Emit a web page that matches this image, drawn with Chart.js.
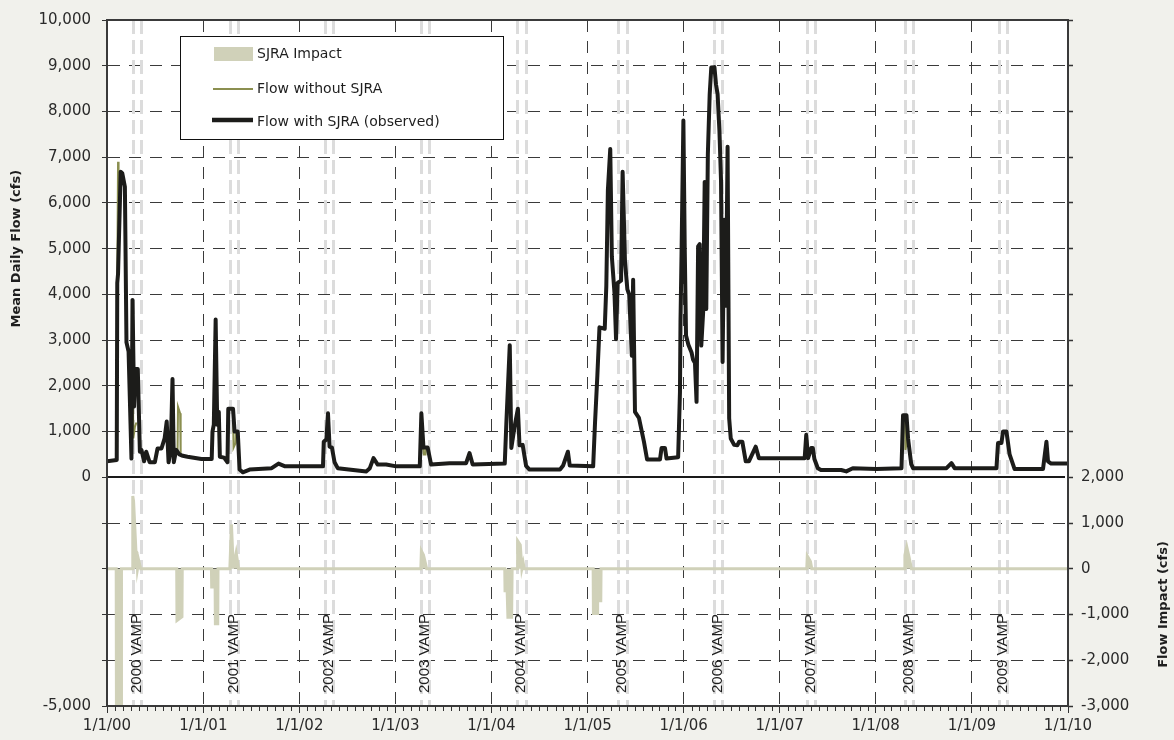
<!DOCTYPE html>
<html>
<head>
<meta charset="utf-8">
<script src="https://cdn.jsdelivr.net/npm/chart.js@4.4.1/dist/chart.umd.min.js"></script>
<style>
  html, body { margin: 0; padding: 0; background: #f1f1ec; }
  #wrap { width: 1174px; height: 740px; position: relative; }
</style>
</head>
<body>
<div id="wrap"><canvas id="c"></canvas></div>
<script>
// ---------------- DATA ----------------
const yearTickDates = ['2000-01-01','2001-01-01','2002-01-01','2003-01-01','2004-01-01','2005-01-01','2006-01-01','2007-01-01','2008-01-01','2009-01-01','2010-01-01'];
const yearTickLabels = ['1/1/00','1/1/01','1/1/02','1/1/03','1/1/04','1/1/05','1/1/06','1/1/07','1/1/08','1/1/09','1/1/10'];

// Flow with SJRA (observed), cfs
const withDates = [
 '2000-01-01','2000-02-07','2000-02-09','2000-02-12','2000-02-22','2000-02-28','2000-03-09','2000-03-15','2000-03-23','2000-04-03',
 '2000-04-07','2000-04-13','2000-04-18','2000-04-27','2000-05-05','2000-05-11','2000-05-21','2000-05-29','2000-06-11','2000-07-01',
 '2000-07-11','2000-07-26','2000-08-07','2000-08-15','2000-08-22','2000-08-30','2000-09-06','2000-09-11','2000-09-20','2000-10-02',
 '2000-10-15','2000-11-02','2000-12-25','2001-02-02','2001-02-05','2001-02-10','2001-02-17','2001-02-23','2001-03-01','2001-03-05',
 '2001-03-21','2001-04-03','2001-04-06','2001-04-24','2001-04-30','2001-05-12','2001-05-19','2001-05-31','2001-06-26','2001-09-18',
 '2001-10-14','2001-11-08','2002-04-01','2002-04-04','2002-04-14','2002-04-20','2002-04-26','2002-05-05','2002-05-15','2002-05-27',
 '2002-09-13','2002-09-26','2002-10-10','2002-10-26','2002-11-27','2003-01-05','2003-04-04','2003-04-10','2003-04-18','2003-05-04',
 '2003-05-17','2003-07-26','2003-09-27','2003-10-10','2003-10-22','2004-02-21','2004-02-27','2004-03-11','2004-03-17','2004-03-29',
 '2004-04-11','2004-04-17','2004-04-29','2004-05-12','2004-05-25','2004-09-18','2004-09-30','2004-10-18','2004-10-25','2005-01-22',
 '2005-01-29','2005-02-07','2005-02-15','2005-03-07','2005-03-13','2005-03-19','2005-03-28','2005-04-03','2005-04-13','2005-04-19',
 '2005-04-25','2005-05-08','2005-05-14','2005-05-23','2005-06-01','2005-06-08','2005-06-18','2005-06-23','2005-06-30','2005-07-15',
 '2005-08-03','2005-08-15','2005-10-03','2005-10-09','2005-10-22','2005-10-28','2005-12-11','2005-12-18','2005-12-20','2005-12-24',
 '2005-12-31','2006-01-05','2006-01-10','2006-01-19','2006-01-31','2006-02-06','2006-02-13','2006-02-19','2006-02-25','2006-03-03',
 '2006-03-09','2006-03-16','2006-03-22','2006-03-28','2006-04-03','2006-04-10','2006-04-16','2006-04-28','2006-05-04','2006-05-10',
 '2006-05-17','2006-05-23','2006-05-29','2006-06-04','2006-06-11','2006-06-17','2006-06-23','2006-06-29','2006-07-12','2006-07-24',
 '2006-07-31','2006-08-12','2006-08-25','2006-09-06','2006-10-02','2006-10-14','2007-04-06','2007-04-12','2007-04-19','2007-05-01',
 '2007-05-07','2007-05-13','2007-05-26','2007-06-07','2007-08-23','2007-09-11','2007-10-06','2008-01-04','2008-04-08','2008-04-14',
 '2008-04-27','2008-05-03','2008-05-15','2008-05-22','2008-09-26','2008-10-15','2008-10-27','2009-04-04','2009-04-10','2009-04-23',
 '2009-04-29','2009-05-12','2009-05-24','2009-06-12','2009-09-28','2009-10-11','2009-10-17','2009-10-29','2009-12-31'
];
const withFlow = [
 350,380,4250,4450,6680,6650,6350,2950,2750,410,
 3880,1550,2370,2370,560,600,350,560,330,330,
 630,630,850,1220,330,560,2150,330,600,500,
 470,450,400,400,1000,1150,3450,1150,1430,450,
 430,330,1500,1500,1000,1000,170,110,170,200,
 300,240,240,780,830,1400,670,650,330,200,
 130,200,420,280,280,240,240,1400,650,650,
 280,310,310,530,280,300,1180,2890,640,1100,
 1500,700,710,250,170,170,260,560,260,240,
 1180,2230,3280,3250,4180,6280,7180,4830,4040,3020,
 4250,4300,6680,4720,4110,4000,2660,4320,1430,1300,
 780,390,390,640,640,410,440,1870,3390,4900,
 7800,5050,3100,2900,2730,2570,2500,1650,5050,5100,
 2880,3600,6460,3680,7070,8380,8960,8970,8590,8380,
 7580,6500,2520,5630,3750,7230,1290,850,710,700,
 780,780,350,350,670,420,420,930,420,640,
 640,400,200,160,160,130,200,180,200,1360,
 1360,850,290,200,200,310,200,200,750,750,
 1000,1000,500,180,180,780,350,300,300
];

// Flow without SJRA: only where it departs from the observed flow (null = gap)
const withoutDates = [
 '2000-02-07','2000-02-09','2000-02-12','2000-02-14','2000-02-15',
 '2000-04-08','2000-04-10','2000-04-16','2000-04-22','2000-04-23',
 '2000-09-25','2000-09-27','2000-10-05','2000-10-07','2000-10-08',
 '2001-04-24','2001-04-26','2001-05-04','2001-05-06','2001-05-07',
 '2003-04-17','2003-04-19','2003-04-26','2003-04-28','2003-04-29',
 '2008-04-22','2008-04-23','2008-04-30','2008-05-02'
];
const withoutFlow = [
 380,4250,6900,4600,null,
 2300,850,1100,1200,null,
 500,1540,1400,500,null,
 1500,650,750,1000,null,
 650,500,500,650,null,
 1360,600,820,850
];

// SJRA Impact (cfs), right axis
const impactDates = [
 '2000-01-01','2000-02-05','2000-02-06','2000-02-24','2000-02-25','2000-04-06','2000-04-08','2000-04-11','2000-04-20','2000-04-24',
 '2000-04-26','2000-05-01','2000-05-08','2000-09-22','2000-09-23','2000-10-12','2000-10-13','2001-02-01','2001-02-02','2001-02-15',
 '2001-02-16','2001-02-25','2001-02-26','2001-04-12','2001-04-18','2001-04-24','2001-04-30','2001-05-06','2001-05-12','2001-05-15',
 '2003-04-08','2003-04-10','2003-04-18','2003-04-25','2003-04-30','2004-02-21','2004-02-22','2004-03-01','2004-03-04','2004-03-18',
 '2004-03-20','2004-04-08','2004-04-10','2004-04-20','2004-04-26','2004-05-01','2004-05-05','2005-01-22','2005-01-23','2005-02-07',
 '2005-02-08','2005-02-20','2005-02-21','2007-04-14','2007-04-16','2007-04-28','2007-05-03','2008-04-19','2008-04-21','2008-04-28',
 '2008-05-06','2008-05-16','2009-12-31'
];
const impactFlow = [
 0,0,-3500,-3500,0,0,1590,1475,390,350,
 0,170,0,0,-1130,-1050,0,0,-400,-400,
 -1200,-1200,0,0,970,170,170,350,130,0,
 0,390,300,130,0,0,-480,-480,-1060,-1060,
 0,0,610,520,0,130,0,0,-980,-980,
 -700,-700,0,0,280,160,0,0,300,480,
 280,0,0
];

// VAMP periods
const vampLabels = ['2000 VAMP','2001 VAMP','2002 VAMP','2003 VAMP','2004 VAMP','2005 VAMP','2006 VAMP','2007 VAMP','2008 VAMP','2009 VAMP'];
const vampStart  = ['2000-04-10','2001-04-13','2002-04-08','2003-04-10','2004-04-08','2005-04-27','2006-04-27','2007-04-16','2008-04-21','2009-04-14'];
const vampEnd    = ['2000-05-10','2001-05-14','2002-05-09','2003-05-09','2004-05-10','2005-05-29','2006-05-25','2007-05-14','2008-05-20','2009-05-14'];

// ---------------- CHART ----------------
const toMs = d => Date.parse(d + 'T00:00:00Z');
const fmt = v => Math.round(v).toLocaleString('en-US');
Chart.defaults.font.family = 'DejaVu Sans';
Chart.defaults.color = '#2a2a2a';

const TICK_FONT = { family: 'DejaVu Sans', size: 15 };
const GRID_DASH = [12, 9];

const decorPlugin = {
  id: 'decor',
  beforeDraw(chart) {
    const { ctx, chartArea: a } = chart;
    ctx.save();
    ctx.fillStyle = '#f1f1ec';
    ctx.fillRect(0, 0, chart.width, chart.height);
    ctx.fillStyle = '#ffffff';
    ctx.fillRect(a.left, a.top, a.right - a.left, a.bottom - a.top);
    ctx.restore();
  },
  beforeDatasetsDraw(chart) {
    const { ctx, chartArea: a, scales } = chart;
    const xs = scales.x;
    ctx.save();
    // VAMP lines
    ctx.strokeStyle = '#dcdcdc';
    ctx.lineWidth = 3;
    ctx.setLineDash([14, 6]);
    vampStart.forEach((s, i) => {
      [s, vampEnd[i]].forEach(d => {
        const px = Math.round(xs.getPixelForValue(toMs(d))) + 0.5;
        ctx.beginPath(); ctx.moveTo(px, a.top); ctx.lineTo(px, a.bottom); ctx.stroke();
      });
    });
    ctx.setLineDash([]);
    // VAMP labels
    ctx.fillStyle = '#1e1e1e';
    ctx.font = '15px "Liberation Sans"';
    ctx.textAlign = 'left';
    ctx.textBaseline = 'middle';
    vampStart.forEach((s, i) => {
      const x1 = xs.getPixelForValue(toMs(s));
      const x2 = xs.getPixelForValue(toMs(vampEnd[i]));
      ctx.save();
      ctx.translate((x1 + x2) / 2, a.bottom - 13);
      ctx.rotate(-Math.PI / 2);
      ctx.fillText(vampLabels[i], 0, 0);
      ctx.restore();
    });
    // zero line of the flow axis
    const y0 = Math.round(scales.y.getPixelForValue(0));
    ctx.strokeStyle = '#1a1a1a';
    ctx.lineWidth = 2;
    ctx.beginPath(); ctx.moveTo(a.left, y0); ctx.lineTo(a.right - 3, y0); ctx.stroke();
    ctx.restore();
  },
  afterDraw(chart) {
    const { ctx, chartArea: a, scales } = chart;
    const xs = scales.x;
    ctx.save();
    // frame
    ctx.strokeStyle = '#3a3a3a';
    ctx.lineWidth = 2;
    ctx.strokeRect(a.left, a.top, a.right - a.left, a.bottom - a.top);
    // minor monthly ticks
    ctx.strokeStyle = '#333';
    ctx.lineWidth = 1;
    for (let y = 2000; y < 2010; y++) {
      for (let m = 1; m < 12; m++) {
        const px = Math.round(xs.getPixelForValue(Date.UTC(y, m, 1))) + 0.5;
        ctx.beginPath(); ctx.moveTo(px, a.bottom); ctx.lineTo(px, a.bottom + 5); ctx.stroke();
      }
    }
    // axis titles
    ctx.fillStyle = '#1e1e1e';
    ctx.font = 'bold 13px "DejaVu Sans"';
    ctx.textAlign = 'center';
    ctx.textBaseline = 'middle';
    ctx.save();
    ctx.translate(17, (a.top + scales.y.getPixelForValue(0)) / 2);
    ctx.rotate(-Math.PI / 2);
    ctx.fillText('Mean Daily Flow (cfs)', 0, 0);
    ctx.restore();
    ctx.save();
    ctx.translate(1164, scales.y2.getPixelForValue(-780));
    ctx.rotate(-Math.PI / 2);
    ctx.fillText('Flow Impact (cfs)', 0, 0);
    ctx.restore();
    // legend
    const lx = 180.5, ly = 36.5, lw = 323, lh = 103;
    ctx.fillStyle = '#ffffff';
    ctx.fillRect(lx, ly, lw, lh);
    ctx.strokeStyle = '#111';
    ctx.lineWidth = 1;
    ctx.strokeRect(lx, ly, lw, lh);
    ctx.fillStyle = '#d0d1b9';
    ctx.fillRect(214, 47, 39, 14);
    ctx.strokeStyle = '#8b8f50';
    ctx.lineWidth = 2;
    ctx.beginPath(); ctx.moveTo(213, 89); ctx.lineTo(253, 89); ctx.stroke();
    ctx.strokeStyle = '#1c1c1a';
    ctx.lineWidth = 4.5;
    ctx.beginPath(); ctx.moveTo(212, 120); ctx.lineTo(253, 120); ctx.stroke();
    ctx.fillStyle = '#1e1e1e';
    ctx.font = '14px "DejaVu Sans"';
    ctx.textAlign = 'left';
    ctx.fillText('SJRA Impact', 257, 54);
    ctx.fillText('Flow without SJRA', 257, 89);
    ctx.fillText('Flow with SJRA (observed)', 257, 122);
    ctx.restore();
  }
};

new Chart(document.getElementById('c'), {
  type: 'line',
  data: {
    datasets: [
      {
        label: 'Flow with SJRA (observed)',
        data: withDates.map((d, i) => ({ x: toMs(d), y: withFlow[i] })),
        yAxisID: 'y',
        borderColor: '#1c1c1a',
        borderWidth: 4,
        borderJoinStyle: 'round',
        borderCapStyle: 'round',
        pointRadius: 0,
        tension: 0,
        order: 1
      },
      {
        label: 'Flow without SJRA',
        data: withoutDates.map((d, i) => ({ x: toMs(d), y: withoutFlow[i] })),
        yAxisID: 'y',
        borderColor: '#8b8f50',
        borderWidth: 2,
        pointRadius: 0,
        tension: 0,
        spanGaps: false,
        order: 2
      },
      {
        label: 'SJRA Impact',
        data: impactDates.map((d, i) => ({ x: toMs(d), y: impactFlow[i] })),
        yAxisID: 'y2',
        borderColor: '#d0d1b9',
        backgroundColor: '#d0d1b9',
        borderWidth: 3,
        fill: 'origin',
        pointRadius: 0,
        tension: 0,
        order: 3
      }
    ]
  },
  options: {
    responsive: true,
    maintainAspectRatio: false,
    devicePixelRatio: 1,
    animation: false,
    events: [],
    layout: { padding: { left: 0, right: 0, top: 15, bottom: 0 } },
    plugins: { legend: { display: false }, tooltip: { enabled: false } },
    scales: {
      x: {
        type: 'linear',
        min: toMs(yearTickDates[0]),
        max: toMs(yearTickDates[yearTickDates.length - 1]),
        afterBuildTicks: s => { s.ticks = yearTickDates.map(d => ({ value: toMs(d) })); },
        afterFit: s => { s.height = 34; },
        ticks: {
          autoSkip: false, maxRotation: 0, minRotation: 0,
          font: TICK_FONT, color: '#2a2a2a', padding: 4,
          callback: (v, i) => yearTickLabels[i]
        },
        grid: { color: '#3a3a3a', lineWidth: 1, tickLength: 7, tickColor: '#333', tickWidth: 1 },
        border: { display: true, color: '#333', width: 2, dash: GRID_DASH }
      },
      y: {
        position: 'left',
        min: -5000, max: 10000,
        afterFit: s => { s.width = 107; },
        ticks: {
          stepSize: 1000, font: TICK_FONT, color: '#2a2a2a', padding: 11,
          callback: v => (v >= 0 || v === -5000) ? fmt(v) : ''
        },
        grid: {
          color: c => (c.tick && c.tick.value === 0) ? 'rgba(0,0,0,0)' : '#3a3a3a',
          lineWidth: 1, tickLength: 5, tickColor: '#333', tickWidth: 1
        },
        border: { display: true, color: '#333', width: 2, dash: GRID_DASH }
      },
      y2: {
        position: 'right',
        min: -3000, max: 12000,
        afterFit: s => { s.width = 106; },
        ticks: {
          stepSize: 1000, font: TICK_FONT, color: '#2a2a2a', padding: 8,
          callback: v => (v <= 2000) ? fmt(v) : ''
        },
        grid: { drawOnChartArea: false, tickLength: 5, tickColor: '#333', tickWidth: 1.5 },
        border: { display: true, color: '#333', width: 2 }
      }
    }
  },
  plugins: [decorPlugin]
});
</script>
</body>
</html>
